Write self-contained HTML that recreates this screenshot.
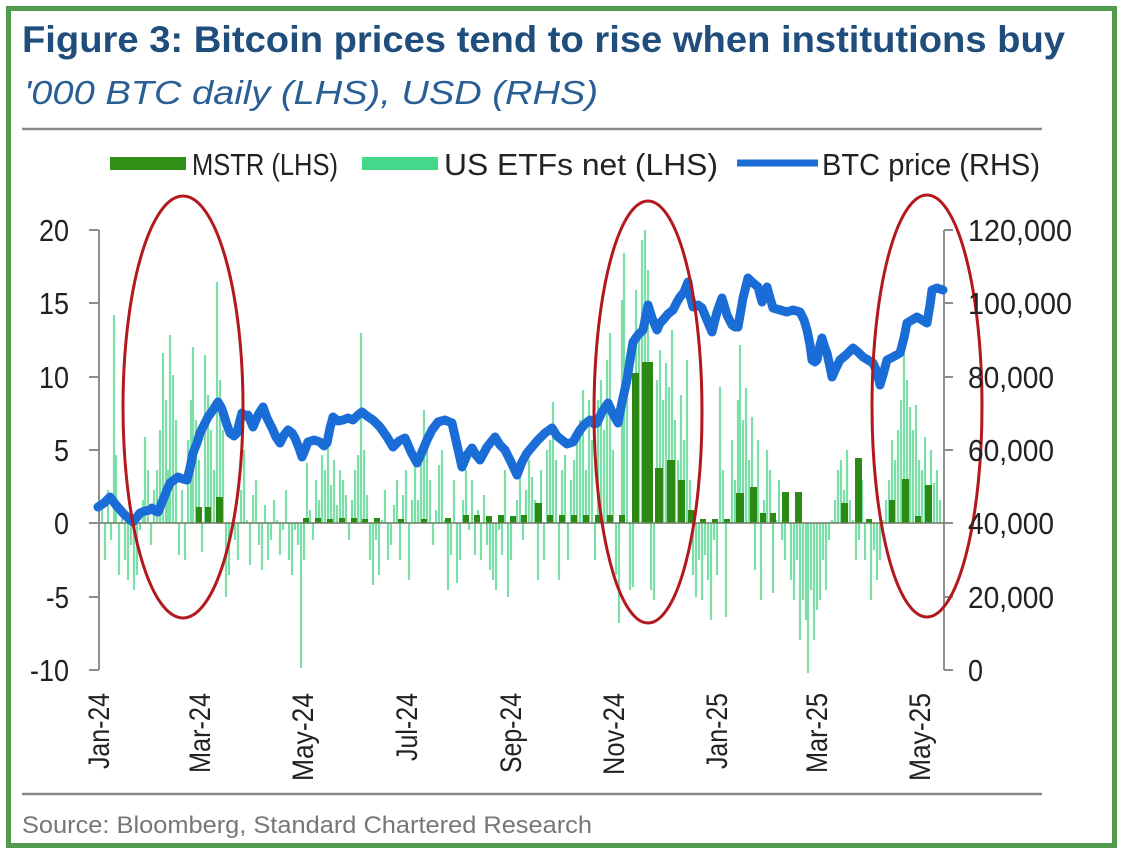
<!DOCTYPE html>
<html>
<head>
<meta charset="utf-8">
<style>
html,body{margin:0;padding:0;background:#fff;}
svg{display:block;}
text{font-family:"Liberation Sans",Arial,sans-serif;}
</style>
</head>
<body>
<svg width="1124" height="853" viewBox="0 0 1124 853" xmlns="http://www.w3.org/2000/svg">
<rect x="0" y="0" width="1124" height="853" fill="#fff"/>
<rect x="8.5" y="8.5" width="1106" height="837" fill="#fff" stroke="#4f9a4c" stroke-width="5"/>

<!-- Title -->
<text x="22" y="52" font-size="37" font-weight="bold" fill="#1f4e7d" textLength="1043" lengthAdjust="spacingAndGlyphs">Figure 3: Bitcoin prices tend to rise when institutions buy</text>
<text x="24" y="104" font-size="33" font-style="italic" fill="#2a5f96" textLength="574" lengthAdjust="spacingAndGlyphs">'000 BTC daily (LHS), USD (RHS)</text>
<line x1="22" y1="129" x2="1042" y2="129" stroke="#8a8a8a" stroke-width="2.5"/>

<!-- Legend -->
<rect x="110" y="157" width="76" height="13" fill="#2f8f17"/>
<text x="192" y="175" font-size="31" fill="#222" textLength="146" lengthAdjust="spacingAndGlyphs">MSTR (LHS)</text>
<rect x="362" y="157" width="76" height="13" fill="#44d98a"/>
<text x="444" y="175" font-size="31" fill="#222" textLength="274" lengthAdjust="spacingAndGlyphs">US ETFs net (LHS)</text>
<line x1="737" y1="163" x2="818" y2="163" stroke="#1a6dd6" stroke-width="7"/>
<text x="822" y="175" font-size="31" fill="#222" textLength="218" lengthAdjust="spacingAndGlyphs">BTC price (RHS)</text>

<!-- ETF bars -->
<path fill="none" stroke="#4fd489" stroke-width="2.2" stroke-opacity="0.75" d="M102 523V505M105 523V560M108 523V490M111 523V540M114 523V315M116 523V455M119 523V575M122 523V510M125 523V560M128 523V580M131 523V545M134 523V590M137 523V575M140 523V530M143 523V500M145 523V437M148 523V470M151 523V545M154 523V490M157 523V470M160 523V430M163 523V353M166 523V400M168 523V470M170 523V335M173 523V375M176 523V420M179 523V555M182 523V490M185 523V560M188 523V440M191 523V400M193 523V347M196 523V420M199 523V460M202 523V552M205 523V355M208 523V395M211 523V430M214 523V470M217 523V282M220 523V380M223 523V430M226 523V597M229 523V575M232 523V530M235 523V540M238 523V560M241 523V490M244 523V450M247 523V520M250 523V565M253 523V495M256 523V480M259 523V545M262 523V570M265 523V505M268 523V560M271 523V540M274 523V500M277 523V520M280 523V555M283 523V530M286 523V490M289 523V560M292 523V575M295 523V530M298 523V545M301 523V668M304 523V560M307 523V463M310 523V510M313 523V540M316 523V480M319 523V500M322 523V455M325 523V470M328 523V445M331 523V485M334 523V460M337 523V505M340 523V470M343 523V480M346 523V495M349 523V540M352 523V500M355 523V470M358 523V455M361 523V333M364 523V450M367 523V495M370 523V560M373 523V585M376 523V540M379 523V575M382 523V520M385 523V490M388 523V560M391 523V545M394 523V505M397 523V480M400 523V560M403 523V495M406 523V470M409 523V580M412 523V500M415 523V455M418 523V500M421 523V460M424 523V410M427 523V445M430 523V480M433 523V545M436 523V510M439 523V465M442 523V450M445 523V520M448 523V590M451 523V555M454 523V480M457 523V583M460 523V560M463 523V500M466 523V470M469 523V530M472 523V480M475 523V555M478 523V510M481 523V560M484 523V495M487 523V545M490 523V570M493 523V580M496 523V590M499 523V530M502 523V555M505 523V470M508 523V597M511 523V560M514 523V520M517 523V500M520 523V475M523 523V540M526 523V490M529 523V460M532 523V477M535 523V500M538 523V580M541 523V470M544 523V560M547 523V450M550 523V440M553 523V402M556 523V460M559 523V580M562 523V470M565 523V455M568 523V560M571 523V480M574 523V460M577 523V440M580 523V420M583 523V390M586 523V470M589 523V400M592 523V440M595 523V560M598 523V400M601 523V380M604 523V430M607 523V360M610 523V333M613 523V450M616 523V575M619 523V623M622 523V300M624 523V253M627 523V380M630 523V590M633 523V587M636 523V290M639 523V330M642 523V240M645 523V230M648 523V270M651 523V590M654 523V600M657 523V380M660 523V350M663 523V400M666 523V363M669 523V387M672 523V330M675 523V420M678 523V460M681 523V395M684 523V440M687 523V360M690 523V480M693 523V575M696 523V597M699 523V560M702 523V600M705 523V555M708 523V580M711 523V620M714 523V540M717 523V575M720 523V387M723 523V470M726 523V617M729 523V520M732 523V440M735 523V480M738 523V400M740 523V345M743 523V420M746 523V388M749 523V460M752 523V417M755 523V570M758 523V440M761 523V600M764 523V500M767 523V450M770 523V470M773 523V593M776 523V520M779 523V480M782 523V540M785 523V560M788 523V500M791 523V580M794 523V600M797 523V560M800 523V640M803 523V600M806 523V620M808 523V673M811 523V590M814 523V640M817 523V610M820 523V600M823 523V560M826 523V590M829 523V540M832 523V520M835 523V500M838 523V470M841 523V460M844 523V490M847 523V450M850 523V500M853 523V520M856 523V560M859 523V540M862 523V480M865 523V560M868 523V520M871 523V600M874 523V550M877 523V580M880 523V560M883 523V520M886 523V500M889 523V480M892 523V440M895 523V460M898 523V430M901 523V400M904 523V353M907 523V380M910 523V407M913 523V430M916 523V405M919 523V460M922 523V470M925 523V437M928 523V490M931 523V450M934 523V483M937 523V470M940 523V500"/>

<!-- MSTR bars -->
<g fill="#2c8a14">
<rect x="196" y="507" width="6" height="16"/>
<rect x="205" y="507" width="6" height="16"/>
<rect x="216" y="497" width="7" height="26"/>
<rect x="303" y="518" width="6" height="5"/>
<rect x="315" y="518" width="6" height="5"/>
<rect x="327" y="519" width="6" height="4"/>
<rect x="339" y="518" width="6" height="5"/>
<rect x="351" y="518" width="6" height="5"/>
<rect x="362" y="519" width="6" height="4"/>
<rect x="374" y="518" width="6" height="5"/>
<rect x="398" y="519" width="6" height="4"/>
<rect x="421" y="519" width="6" height="4"/>
<rect x="445" y="518" width="6" height="5"/>
<rect x="463" y="515" width="6" height="8"/>
<rect x="474" y="515" width="6" height="8"/>
<rect x="486" y="516" width="6" height="7"/>
<rect x="498" y="515" width="6" height="8"/>
<rect x="510" y="516" width="6" height="7"/>
<rect x="521" y="515" width="6" height="8"/>
<rect x="535" y="503" width="7" height="20"/>
<rect x="547" y="515" width="6" height="8"/>
<rect x="559" y="515" width="6" height="8"/>
<rect x="571" y="515" width="6" height="8"/>
<rect x="583" y="515" width="6" height="8"/>
<rect x="595" y="515" width="6" height="8"/>
<rect x="607" y="515" width="6" height="8"/>
<rect x="619" y="515" width="6" height="8"/>
<rect x="632" y="373" width="7" height="150"/>
<rect x="642" y="362" width="11" height="161"/>
<rect x="655" y="468" width="8" height="55"/>
<rect x="667" y="460" width="8" height="63"/>
<rect x="678" y="480" width="7" height="43"/>
<rect x="688" y="510" width="6" height="13"/>
<rect x="700" y="519" width="6" height="4"/>
<rect x="712" y="519" width="6" height="4"/>
<rect x="724" y="519" width="6" height="4"/>
<rect x="736" y="493" width="8" height="30"/>
<rect x="750" y="487" width="7" height="36"/>
<rect x="760" y="513" width="6" height="10"/>
<rect x="770" y="513" width="6" height="10"/>
<rect x="782" y="492" width="7" height="31"/>
<rect x="795" y="492" width="7" height="31"/>
<rect x="841" y="503" width="7" height="20"/>
<rect x="855" y="458" width="7" height="65"/>
<rect x="866" y="519" width="6" height="4"/>
<rect x="889" y="500" width="6" height="23"/>
<rect x="902" y="479" width="7" height="44"/>
<rect x="915" y="516" width="6" height="7"/>
<rect x="925" y="485" width="7" height="38"/>
</g>

<!-- Axes -->
<g stroke="#8f8f8f" stroke-width="2" fill="none">
<line x1="99" y1="230" x2="99" y2="670"/>
<line x1="89" y1="230" x2="99" y2="230"/>
<line x1="89" y1="303" x2="99" y2="303"/>
<line x1="89" y1="377" x2="99" y2="377"/>
<line x1="89" y1="450" x2="99" y2="450"/>
<line x1="89" y1="523" x2="99" y2="523"/>
<line x1="89" y1="597" x2="99" y2="597"/>
<line x1="89" y1="670" x2="99" y2="670"/>
<line x1="944" y1="230" x2="944" y2="670"/>
<line x1="944" y1="230" x2="953" y2="230"/>
<line x1="944" y1="303" x2="953" y2="303"/>
<line x1="944" y1="377" x2="953" y2="377"/>
<line x1="944" y1="450" x2="953" y2="450"/>
<line x1="944" y1="523" x2="953" y2="523"/>
<line x1="944" y1="597" x2="953" y2="597"/>
<line x1="944" y1="670" x2="953" y2="670"/>
</g>
<line x1="99" y1="523" x2="944" y2="523" stroke="#6e7a60" stroke-width="1.5"/>

<!-- BTC price line -->
<polyline fill="none" stroke="#1a6dd6" stroke-width="9" stroke-linejoin="round" stroke-linecap="round" points="98,507 104,503 110,497 116,505 123,513 128,518 133,522 137,517 140,513 145,511 150,510 152,508 155,511 158,512 163,500 167,490 170,483 174,480 178,477 183,479 187,480 190,468 193,453 197,443 200,433 204,425 208,417 213,410 218,402 221,407 223,412 227,425 230,433 234,436 237,433 240,420 242,413 245,416 248,415 251,422 253,427 258,415 263,407 267,418 272,428 276,437 280,443 284,435 288,430 292,433 295,438 299,448 302,457 305,450 308,442 314,440 320,442 324,446 327,443 330,428 333,417 338,421 343,420 348,418 353,420 358,415 362,412 367,416 373,420 380,427 387,437 393,447 399,441 405,438 411,452 417,463 422,452 427,440 432,430 438,422 445,420 452,423 457,445 462,467 467,455 472,448 476,455 480,460 487,447 495,437 500,445 505,450 511,462 517,475 522,462 527,453 532,447 538,440 545,433 552,428 557,436 562,440 567,444 573,442 577,435 580,430 585,424 590,420 594,424 597,423 602,412 608,403 613,414 618,423 622,402 627,380 630,360 633,342 638,335 643,330 648,305 652,318 657,330 660,323 663,320 668,314 673,310 677,302 680,297 684,292 688,282 690,296 693,307 698,305 702,308 707,320 712,332 717,312 722,298 727,315 732,325 735,327 738,327 743,298 748,278 752,282 758,287 762,302 767,287 770,298 773,308 780,310 787,312 793,310 800,312 804,320 807,330 810,345 812,360 815,362 817,360 820,345 822,338 825,348 827,353 830,367 832,377 836,368 840,360 846,355 853,348 858,352 863,357 868,360 873,363 877,372 880,385 883,375 887,360 893,357 900,353 904,338 907,323 912,320 917,317 922,320 927,323 930,305 932,290 937,288 943,290"/>

<!-- Red ellipses -->
<g fill="none" stroke="#b3191c" stroke-width="3">
<ellipse cx="183" cy="407" rx="60" ry="211"/>
<ellipse cx="648" cy="412" rx="54" ry="211"/>
<ellipse cx="927" cy="406" rx="55" ry="211"/>
</g>

<!-- Left axis labels -->
<g font-size="31" fill="#222" text-anchor="end">
<text x="69" y="241" textLength="30" lengthAdjust="spacingAndGlyphs">20</text>
<text x="69" y="314" textLength="30" lengthAdjust="spacingAndGlyphs">15</text>
<text x="69" y="388" textLength="30" lengthAdjust="spacingAndGlyphs">10</text>
<text x="69" y="461" textLength="15" lengthAdjust="spacingAndGlyphs">5</text>
<text x="69" y="534" textLength="15" lengthAdjust="spacingAndGlyphs">0</text>
<text x="69" y="608" textLength="23" lengthAdjust="spacingAndGlyphs">-5</text>
<text x="69" y="681" textLength="39" lengthAdjust="spacingAndGlyphs">-10</text>
</g>

<!-- Right axis labels -->
<g font-size="31" fill="#222">
<text x="968" y="241" textLength="104" lengthAdjust="spacingAndGlyphs">120,000</text>
<text x="968" y="314" textLength="104" lengthAdjust="spacingAndGlyphs">100,000</text>
<text x="968" y="388" textLength="86" lengthAdjust="spacingAndGlyphs">80,000</text>
<text x="968" y="461" textLength="86" lengthAdjust="spacingAndGlyphs">60,000</text>
<text x="968" y="534" textLength="86" lengthAdjust="spacingAndGlyphs">40,000</text>
<text x="968" y="608" textLength="86" lengthAdjust="spacingAndGlyphs">20,000</text>
<text x="968" y="681" textLength="15" lengthAdjust="spacingAndGlyphs">0</text>
</g>

<!-- X axis labels (rotated) -->
<g font-size="30" fill="#222" text-anchor="end">
<text transform="translate(109,693) rotate(-90)" textLength="76" lengthAdjust="spacingAndGlyphs">Jan-24</text>
<text transform="translate(210,693) rotate(-90)" textLength="80" lengthAdjust="spacingAndGlyphs">Mar-24</text>
<text transform="translate(313,693) rotate(-90)" textLength="88" lengthAdjust="spacingAndGlyphs">May-24</text>
<text transform="translate(417,693) rotate(-90)" textLength="68" lengthAdjust="spacingAndGlyphs">Jul-24</text>
<text transform="translate(521,693) rotate(-90)" textLength="80" lengthAdjust="spacingAndGlyphs">Sep-24</text>
<text transform="translate(624,693) rotate(-90)" textLength="82" lengthAdjust="spacingAndGlyphs">Nov-24</text>
<text transform="translate(727,693) rotate(-90)" textLength="76" lengthAdjust="spacingAndGlyphs">Jan-25</text>
<text transform="translate(827,693) rotate(-90)" textLength="80" lengthAdjust="spacingAndGlyphs">Mar-25</text>
<text transform="translate(930,693) rotate(-90)" textLength="88" lengthAdjust="spacingAndGlyphs">May-25</text>
</g>

<!-- Bottom rule and source -->
<line x1="22" y1="794" x2="1042" y2="794" stroke="#8a8a8a" stroke-width="2.5"/>
<text x="22" y="833" font-size="24" fill="#777" textLength="570" lengthAdjust="spacingAndGlyphs">Source: Bloomberg, Standard Chartered Research</text>
</svg>
</body>
</html>
